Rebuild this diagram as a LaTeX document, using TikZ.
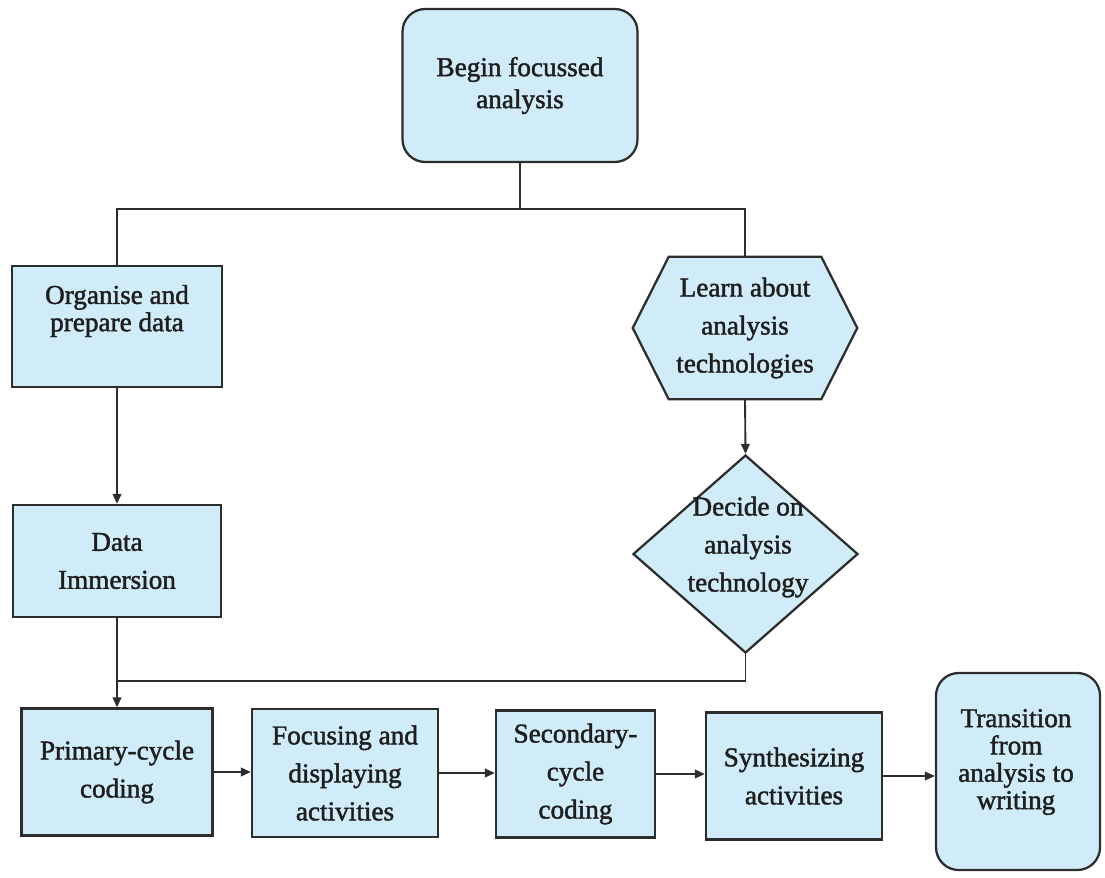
\documentclass[tikz,border=0pt]{standalone}
\usepackage{fontspec}
\setmainfont{Liberation Serif}[FakeBold=1.6]
\usetikzlibrary{arrows.meta,shapes.geometric,backgrounds,calc}

\definecolor{boxfill}{RGB}{208,236,248}
\definecolor{boxline}{RGB}{45,45,45}
\definecolor{inkcol}{RGB}{30,30,30}

\tikzset{
  wh/.style 2 args={minimum width=#1*0.75pt, minimum height=#2*0.75pt},
  txt/.style={align=center, text=inkcol, inner sep=0pt,
    font=\fontsize{20.4pt}{28.5pt}\selectfont},
  tight/.style={font=\fontsize{20.4pt}{20.5pt}\selectfont},
  mid/.style={font=\fontsize{20.4pt}{24pt}\selectfont},
  box/.style={rectangle, draw=boxline, fill=boxfill, line width=1.7pt,
    txt},
  roundbox/.style={box, rounded corners=17pt},
  plain/.style={draw=boxline, line width=1.4pt},
  arr/.style={plain, -{Triangle[length=7.5pt,width=6.5pt]}},
}

\begin{document}
\begin{tikzpicture}[x=0.75pt, y=-0.75pt]
  % page frame
  \path[use as bounding box] (0,0) rectangle (1105,877);

  % start node
  \node[roundbox, mid, wh={235}{153}] (begin) at (520,85.5)
    {Begin focussed\\analysis};

  % left branch
  \node[box, wh={210}{121}] (org) at (117,326.5) {};
  \node[txt, tight] (orgtext) at (117,311) {Organise and\\prepare data};
  \node[box, wh={208}{112}] (imm) at (117,561) {Data\\Immersion};

  % right branch: hexagon outline drawn behind its text
  \node[txt, wh={224}{142}] (hex) at (745,328)
    {Learn about\\analysis\\technologies};
  \begin{scope}[on background layer]
    \draw[draw=boxline, fill=boxfill, line width=1.7pt, line join=miter]
      (hex.west) -- ([xshift=36*0.75pt]hex.north west)
      -- ([xshift=-36*0.75pt]hex.north east) -- (hex.east)
      -- ([xshift=-36*0.75pt]hex.south east)
      -- ([xshift=36*0.75pt]hex.south west) -- cycle;
  \end{scope}

  \node[diamond, draw=boxline, fill=boxfill, line width=1.7pt, inner sep=0pt,
    aspect=1.136, wh={225}{198}] (dia) at (745.5,554) {};
  \node[txt] (diatext) at (748,547) {Decide on\\analysis\\technology};

  % bottom row
  \node[box, wh={191}{127}] (prim) at (117,772) {Primary-cycle\\coding};
  \node[box, wh={186}{128}] (foc) at (345,773)
    {Focusing and\\displaying\\activities};
  \node[box, wh={159}{127}] (sec) at (575.5,774)
    {Secondary-\\cycle\\coding};
  \node[box, wh={176}{127}] (syn) at (794,776) {Synthesizing\\activities};
  \node[roundbox, wh={164}{197}] (trans) at (1018,771.5) {};
  \node[txt, tight] (transtext) at (1016,762)
    {Transition\\from\\analysis to\\writing};

  % connectors
  \coordinate (busL) at (117,209);
  \coordinate (join) at (117,681);

  \draw[plain] (begin.south) -- (begin.south |- busL);
  \draw[plain] (org.north) -- (org.north |- busL) -- (hex.north |- busL)
    -- (hex.north);
  \draw[arr] (org.south) -- (imm.north);
  \draw[arr] (hex.south) -- (dia.north);
  \draw[plain] (dia.south) -- (dia.south |- join) -- (join);
  \draw[arr] (imm.south) -- (prim.north);

  \draw[arr] (prim.east) -- (prim.east -| foc.west);
  \draw[arr] (foc.east) -- (foc.east -| sec.west);
  \draw[arr] (sec.east) -- (sec.east -| syn.west);
  \draw[arr] (syn.east) -- (syn.east -| trans.west);
\end{tikzpicture}
\end{document}
